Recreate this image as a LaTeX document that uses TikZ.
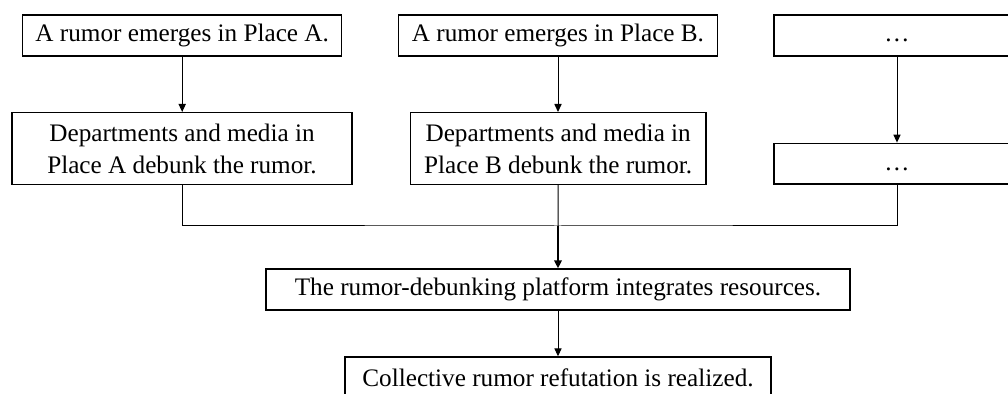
\documentclass[tikz,border=0pt]{standalone}
\usepackage{fontspec}
\setmainfont{Liberation Serif}
\usetikzlibrary{arrows.meta}
\begin{document}
\begin{tikzpicture}[x=0.5pt,y=-0.5pt,
  box/.style={draw, line width=0.7pt, inner sep=0pt, align=center,
    font=\fontsize{12.6}{16}\selectfont},
  conn/.style={line width=0.5pt},
  arr/.style={conn, -{Triangle[length=4pt,width=3.6pt]}},
  thickarr/.style={line width=0.9pt, -{Triangle[length=4pt,width=3.8pt]}}]
\useasboundingbox (0,0) rectangle (1008,394);
\clip (0,0) rectangle (1008,394);
\node[box, minimum width=159.5pt, minimum height=20.5pt] (a1) at (182.2,35.5) {A rumor emerges in Place A.};
\node[box, minimum width=159.7pt, minimum height=20.5pt] (b1) at (558,35.5) {A rumor emerges in Place B.};
\node[box, minimum width=123pt, minimum height=20.5pt] (c1) at (897,35.5) {\strut…};
\node[box, minimum width=170pt, minimum height=35.8pt] (a2) at (182,148.5) {Departments and media in\\Place A debunk the rumor.};
\node[box, minimum width=147.9pt, minimum height=35.8pt] (b2) at (558.2,148.5) {Departments and media in\\Place B debunk the rumor.};
\node[box, minimum width=123pt, minimum height=20.4pt] (c2) at (897,163.7) {\strut…};
\node[box, minimum width=292pt, minimum height=20.5pt] (p) at (558,289.5) {The rumor-debunking platform integrates resources.};
\node[box, minimum width=213pt, minimum height=20.5pt] (r) at (558,377.5) {Collective rumor refutation is realized.};
\coordinate (mid) at (558,226);
\draw[arr] (a1.south) -- (a1.south |- a2.north);
\draw[arr] (b1.south) -- (b1.south |- b2.north);
\draw[arr] (c1.south) -- (c1.south |- c2.north);
\draw[conn] (a2.south) |- (mid) -| (c2.south);
\draw[conn] (b2.south) -- (mid);
\draw[thickarr] (mid) -- (p.north);
\draw[arr] (p.south) -- (r.north);
\end{tikzpicture}
\end{document}
